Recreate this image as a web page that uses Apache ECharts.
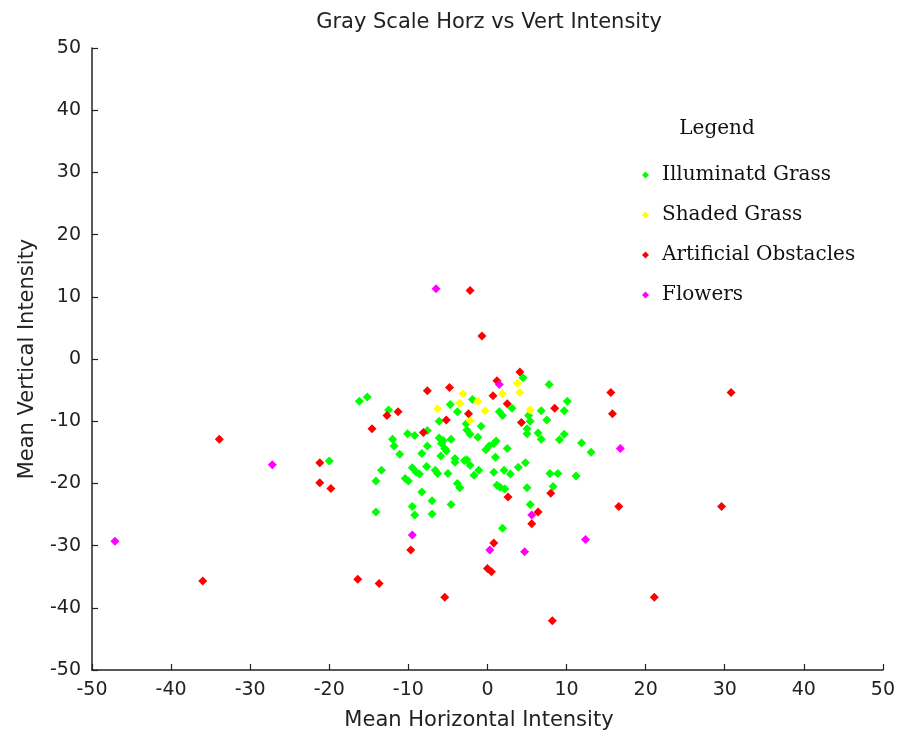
<!DOCTYPE html>
<html>
<head>
<meta charset="utf-8">
<script src="https://cdn.jsdelivr.net/npm/echarts@6/dist/echarts.min.js"></script>
<style>
  html, body { margin: 0; padding: 0; background: #fff; }
  #chart { width: 898px; height: 739px; }
</style>
</head>
<body>
<div id="chart"></div>
<script>
// Mean horizontal / vertical gray-scale intensity per sample, [x, y]
const illuminatedGrass = [
  [-20.0, -16.4], [-16.2, -6.8], [-15.2, -6.1], [-12.5, -8.2], [-1.9, -6.5],
  [-4.7, -7.3], [-3.8, -8.5], [-6.1, -10.0], [-2.7, -10.4], [-0.8, -10.8],
  [-2.6, -11.4], [-2.2, -12.1], [-1.2, -12.6], [-10.1, -12.0], [-9.2, -12.3],
  [-7.6, -11.5], [-12.0, -12.9], [-11.8, -14.0], [-11.1, -15.3], [-6.1, -12.7],
  [-5.6, -13.1], [-4.6, -12.9], [-7.6, -14.0], [-8.3, -15.2], [-5.8, -13.6],
  [-5.4, -14.4], [-5.2, -14.8], [-5.9, -15.6], [-4.1, -16.0], [-4.1, -16.6],
  [-2.9, -16.3], [-2.6, -16.2], [-2.2, -17.1], [-0.2, -14.6], [0.2, -14.0],
  [1.1, -13.2], [1.0, -15.8], [-13.4, -17.9], [-14.1, -19.6], [-9.5, -17.5],
  [-9.0, -18.2], [-8.6, -18.5], [-10.4, -19.2], [-10.0, -19.6], [-7.7, -17.3],
  [-6.6, -17.9], [-6.3, -18.4], [-5.0, -18.4], [-3.8, -20.0], [-3.5, -20.7],
  [-1.7, -18.7], [-1.1, -17.9], [-8.3, -21.4], [-7.0, -22.8], [-4.6, -23.4],
  [-9.5, -23.7], [-9.2, -25.1], [-7.0, -24.9], [-14.1, -24.6],
  [4.5, -3.0], [7.8, -4.1], [10.1, -6.8], [3.1, -7.9], [6.8, -8.3],
  [9.7, -8.3], [1.5, -8.5], [1.9, -9.1], [5.2, -9.1], [5.4, -10.0],
  [7.5, -9.8], [5.0, -11.2], [5.0, -12.0], [6.4, -11.9], [6.8, -12.9],
  [9.7, -12.1], [9.1, -13.0], [11.9, -13.5], [13.1, -15.0], [0.8, -13.6],
  [2.5, -14.4], [0.8, -18.2], [2.1, -17.9], [2.9, -18.5], [3.9, -17.4],
  [4.8, -16.7], [7.9, -18.4], [8.9, -18.4], [11.2, -18.8], [1.2, -20.3],
  [1.6, -20.6], [2.2, -20.9], [5.0, -20.7], [8.3, -20.5], [5.4, -23.4],
  [1.9, -27.2]
];

const shadedGrass = [
  [-3.1, -5.6], [-3.5, -7.1], [-1.2, -6.8], [-6.3, -8.0], [-0.3, -8.3],
  [-2.2, -9.9], [3.8, -3.9], [4.1, -5.4], [1.9, -5.6], [5.4, -8.2]
];

const artificialObstacles = [
  [-33.9, -12.9], [-21.2, -16.7], [-21.2, -19.9], [-19.8, -20.8], [-36.0, -35.7],
  [-16.4, -35.4], [-13.7, -36.1], [15.6, -5.4], [30.8, -5.4], [15.8, -8.8],
  [16.6, -23.7], [29.6, -23.7], [21.1, -38.3], [-2.2, 11.0], [-0.7, 3.7],
  [4.1, -2.1], [1.2, -3.5], [-4.8, -4.6], [-7.6, -5.1], [0.7, -5.9],
  [-2.4, -8.8], [-12.7, -9.1], [-11.3, -8.5], [-14.6, -11.2], [-5.2, -9.8],
  [-8.1, -11.8], [8.5, -7.9], [2.5, -7.2], [4.3, -10.2], [8.0, -21.6],
  [2.6, -22.2], [6.4, -24.6], [5.6, -26.5], [-9.7, -30.7], [0.8, -29.6],
  [0.0, -33.7], [0.5, -34.2], [-5.4, -38.3], [8.2, -42.1]
];

const flowers = [
  [-47.1, -29.3], [-27.2, -17.0], [16.8, -14.4], [12.4, -29.0], [-6.5, 11.3],
  [1.5, -4.1], [-9.5, -28.3], [5.6, -25.1], [0.3, -30.7], [4.7, -31.0]
];

const seriesNames = ['Illuminatd Grass', 'Shaded Grass', 'Artificial Obstacles', 'Flowers'];
const seriesData = [illuminatedGrass, shadedGrass, artificialObstacles, flowers];
const seriesColors = ['#00ff00', '#ffff00', '#ff0000', '#ff00ff'];

const axisMin = -50, axisMax = 50, axisStep = 10;
const sansFont = 'DejaVu Sans, Verdana, sans-serif';
const serifFont = 'DejaVu Serif, Georgia, serif';

const chart = echarts.init(document.getElementById('chart'), null, { renderer: 'canvas' });

function valueAxis(name, extra) {
  return Object.assign({
    type: 'value',
    min: axisMin,
    max: axisMax,
    interval: axisStep,
    name: name,
    nameLocation: 'middle',
    axisLine: { show: true, onZero: false, lineStyle: { color: '#222', width: 1.5 } },
    axisTick: { show: true, inside: true, length: 6, lineStyle: { color: '#222', width: 1.2 } },
    axisLabel: { fontFamily: sansFont, fontSize: 19, color: '#222', margin: 11, showMinLabel: true, showMaxLabel: true },
    splitLine: { show: false }
  }, extra);
}

chart.setOption({
  animation: false,
  backgroundColor: '#ffffff',
  title: [
    {
      text: 'Gray Scale Horz vs Vert Intensity',
      left: 484, top: 7, textAlign: 'center',
      textStyle: { fontFamily: sansFont, fontSize: 21, fontWeight: 'normal', color: '#222' }
    },
    {
      text: 'Legend',
      left: 712, top: 114, textAlign: 'center',
      textStyle: { fontFamily: serifFont, fontSize: 20, fontWeight: 'normal', color: '#111' }
    }
  ],
  grid: { left: 92, right: 13, top: 48, bottom: 69, containLabel: false },
  xAxis: valueAxis('Mean Horizontal Intensity', {
    nameGap: 40,
    nameTextStyle: { fontFamily: sansFont, fontSize: 21, color: '#222', padding: [0, 17, 0, 0] }
  }),
  yAxis: valueAxis('Mean Vertical Intensity', {
    nameGap: 54,
    nameRotate: 90,
    nameTextStyle: { fontFamily: sansFont, fontSize: 21, color: '#222' }
  }),
  legend: {
    orient: 'vertical',
    left: 637, top: 159,
    itemWidth: 7, itemHeight: 7,
    itemGap: 18,
    icon: 'diamond',
    selectedMode: false,
    textStyle: { fontFamily: serifFont, fontSize: 20, color: '#111', lineHeight: 22, padding: [0, 0, 0, 8] },
    data: seriesNames
  },
  series: seriesNames.map((n, i) => ({
    name: n,
    type: 'scatter',
    symbol: 'diamond',
    symbolSize: 9,
    itemStyle: { color: seriesColors[i], opacity: 1 },
    data: seriesData[i]
  }))
});
</script>
</body>
</html>
